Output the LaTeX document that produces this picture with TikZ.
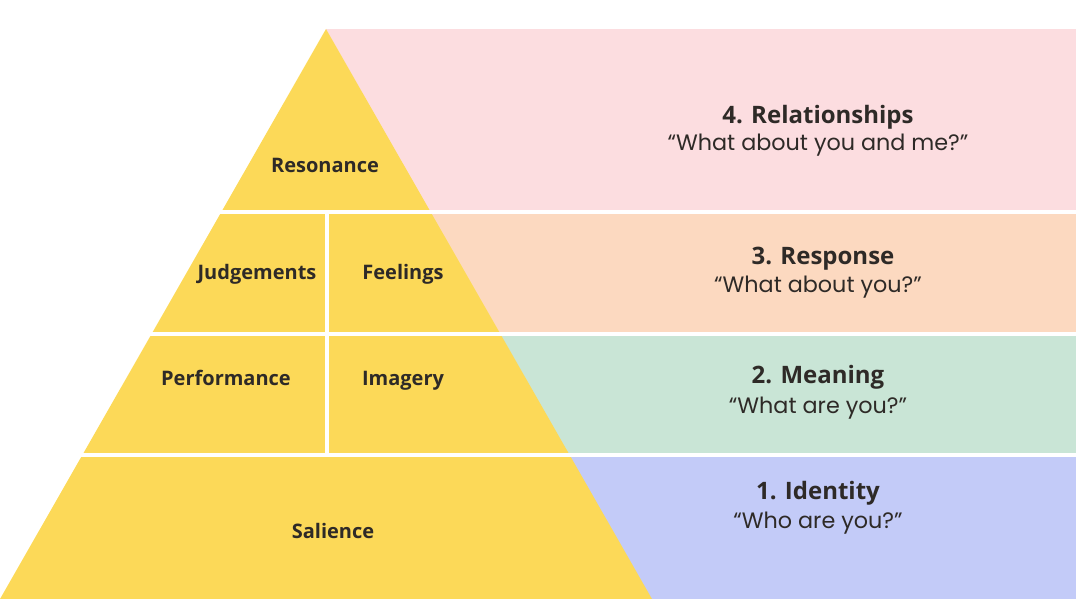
\documentclass[tikz,border=0pt]{standalone}
\usepackage{fontspec}
\setmainfont{Open Sans}
\newfontfamily\quotefont{Poppins}

\begin{document}
\begin{tikzpicture}[x=1pt, y=-1pt,
  layer/.style={font=\fontsize{20}{22}\selectfont\bfseries, text=inkcolor, text height=1.45ex, text depth=.45ex},
  head/.style={font=\fontsize{24}{26}\selectfont\bfseries, text=inkcolor},
  ask/.style={font=\quotefont\fontsize{22.3}{24}\selectfont, text=inkcolor},
  gap/.style={white, line width=3.5pt}]

\definecolor{pyramidcolor}{RGB}{252, 217, 88}
\definecolor{pinkband}{RGB}{252, 221, 224}
\definecolor{peachband}{RGB}{252, 217, 192}
\definecolor{greenband}{RGB}{201, 229, 214}
\definecolor{blueband}{RGB}{195, 203, 248}
\definecolor{inkcolor}{RGB}{46, 42, 39}

\useasboundingbox (0,0) rectangle (1080,599);

% bands behind the pyramid
\fill[pinkband] (326,29) rectangle (1076,212);
\fill[peachband] (326,212) rectangle (1076,334);
\fill[greenband] (326,334) rectangle (1076,455);
\fill[blueband] (326,455) rectangle (1076,599);

% pyramid
\fill[pyramidcolor] (326,29) -- (652,599) -- (0,599) -- cycle;

% white gaps
\draw[gap] (219,212) -- (1078,212);
\draw[gap] (150,334) -- (1078,334);
\draw[gap] (80,455) -- (1078,455);
\draw[gap] (327,212) -- (327,455);

% pyramid labels
\node[layer] (resonance) at (325,170) {Resonance};
\node[layer] (judgements) at (257,277) {Judgements};
\node[layer] (feelings) at (403,277) {Feelings};
\node[layer] (performance) at (226,383) {Performance};
\node[layer] (imagery) at (403,383) {Imagery};
\node[layer] (salience) at (333,536) {Salience};

% band labels
\node[head] (relationships) at (818,117) {4. Relationships};
\node[ask] (relq) at (818,145) {“What about you and me?”};
\node[head] (response) at (823,259) {3. Response};
\node[ask] (respq) at (818,287) {“What about you?”};
\node[head] (meaning) at (818,377) {2. Meaning};
\node[ask] (meanq) at (818,408) {“What are you?”};
\node[head] (identity) at (818,493) {1. Identity};
\node[ask] (identq) at (818,523) {“Who are you?”};

\end{tikzpicture}
\end{document}
